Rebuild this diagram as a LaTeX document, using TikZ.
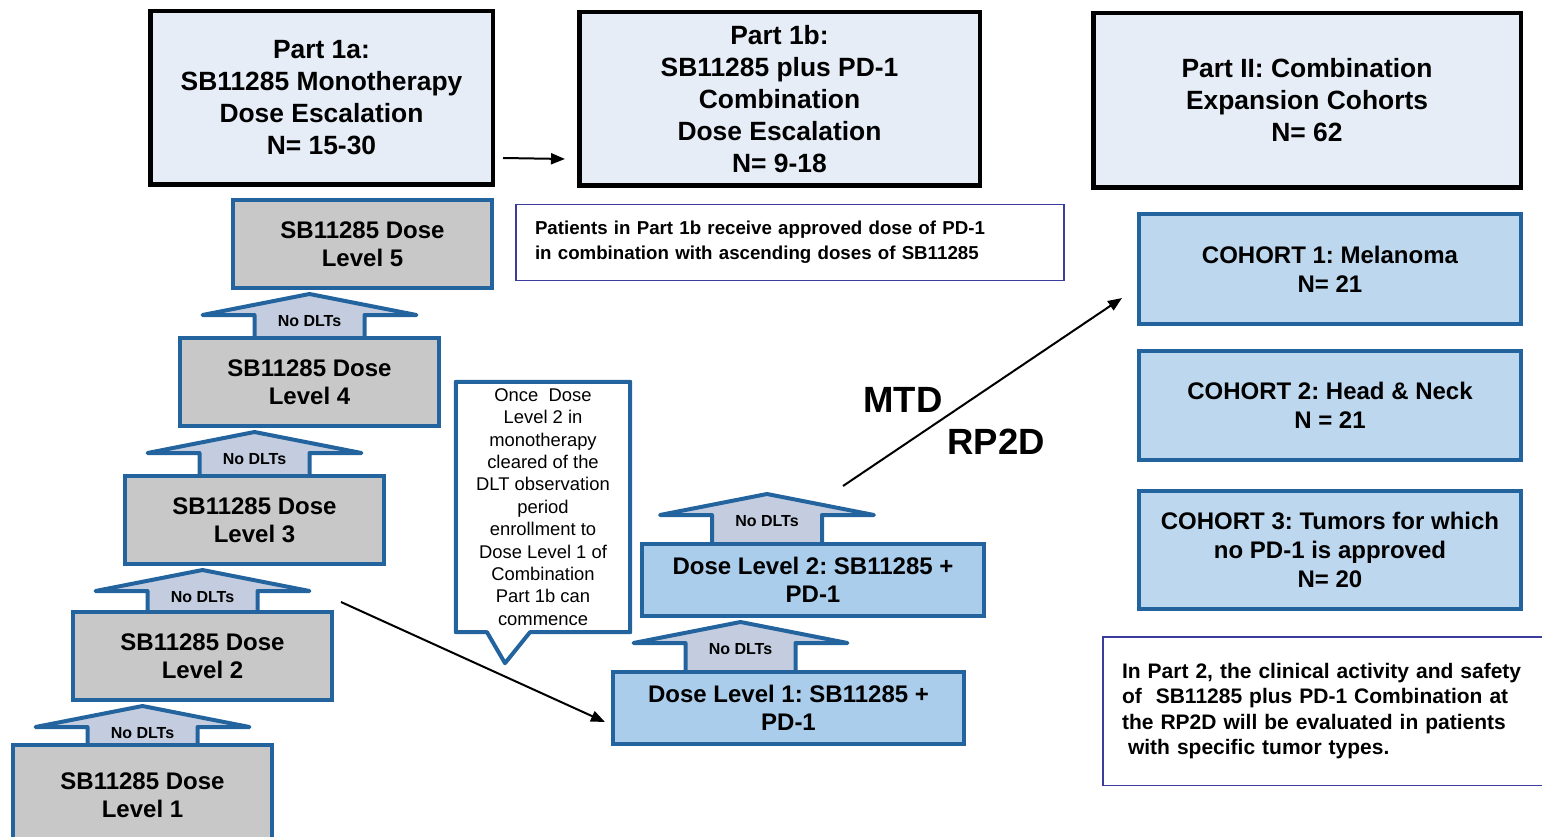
\documentclass[tikz,border=0pt]{standalone}
\usepackage{fontspec}
\setmainfont{Liberation Sans}
\usepackage{tikz}
\usetikzlibrary{arrows.meta,backgrounds}
\frenchspacing

\definecolor{boxblue}{HTML}{23649F}
\definecolor{partfill}{HTML}{E6EDF7}
\definecolor{dosegray}{HTML}{C8C8C8}
\definecolor{dltfill}{HTML}{C4CDE0}
\definecolor{cohortfill}{HTML}{BDD7EE}
\definecolor{combofill}{HTML}{AACDEC}
\definecolor{noteline}{HTML}{3C3C9C}

% block arrow "No DLTs": #1 tip position, #2 name
\newcommand{\dltarrow}[2]{%
  \coordinate (#2tip) at (#1);
  \begin{pgfonlayer}{background}
    \draw[dltshape] (#2tip) ++(0,4) -- ++(107,21) -- ++(-52,0) -- ++(0,40) -- ++(-110,0) -- ++(0,-40) -- ++(-52,0) -- cycle;
  \end{pgfonlayer}
  \node[dltlabel] (#2) at ([yshift=-31pt]#2tip) {No DLTs};}

\begin{document}
\begin{tikzpicture}[x=1pt, y=-1pt, >={Triangle[length=14pt,width=11pt]},
  partbox/.style={draw=black, line width=4.5pt, fill=partfill, align=center, inner sep=0pt,
    font=\bfseries\fontsize{26.4}{32}\selectfont},
  dosebox/.style={draw=boxblue, line width=4pt, fill=dosegray, align=center, inner sep=0pt,
    minimum width=259pt, minimum height=88pt, font=\bfseries\fontsize{24}{28}\selectfont},
  combobox/.style={draw=boxblue, line width=4pt, fill=combofill, align=center, inner sep=0pt,
    minimum height=72pt, font=\bfseries\fontsize{24}{28}\selectfont},
  cohortbox/.style={draw=boxblue, line width=4pt, fill=cohortfill, align=center, inner sep=0pt,
    minimum width=382pt, font=\bfseries\fontsize{24}{29}\selectfont},
  notebox/.style={draw=noteline, line width=1.5pt, fill=white, align=left, inner xsep=19pt,
    inner ysep=0pt},
  dltshape/.style={draw=boxblue, line width=4pt, fill=dltfill, line join=round},
  dltlabel/.style={inner sep=0pt, font=\bfseries\fontsize{16}{18}\selectfont},
  bigtext/.style={inner sep=0pt, font=\bfseries\fontsize{36.5}{40}\selectfont},
  link/.style={->, line width=2pt}]
  \useasboundingbox (0,0) rectangle (1542,837);

  % Parts
  \node[partbox, minimum width=342.5pt, minimum height=173.5pt] (p1a) at (321.5,98)
    {Part 1a:\\SB11285 Monotherapy\\Dose Escalation\\N= 15-30};
  \node[partbox, minimum width=400.5pt, minimum height=173.5pt] (p1b) at (779.5,99)
    {Part 1b:\\SB11285 plus PD-1\\Combination\\Dose Escalation\\N= 9-18};
  \node[partbox, minimum width=427.5pt, minimum height=174.5pt] (p2) at (1307,100.5)
    {Part II: Combination\\Expansion Cohorts\\N= 62};
  \draw[link] ([xshift=8pt,yshift=-60pt]p1a.east) -- ([xshift=-12pt,yshift=-60pt]p1b.west);

  % Notes
  \node[notebox, text width=510pt, minimum height=75.5pt, font=\bfseries\fontsize{18.7}{25}\selectfont]
    (note1b) at (790,242.5)
    {Patients in Part 1b receive approved dose of PD-1\\in combination with ascending doses of SB11285};
  \node[notebox, text width=419pt, minimum height=148.5pt, font=\bfseries\fontsize{21}{25.3}\selectfont]
    (note2) at (1331.5,711)
    {In Part 2, the clinical activity and safety\\of\ \ SB11285 plus PD-1 Combination at\\the RP2D will be evaluated in patients\\\hspace*{6pt}with specific tumor types.};

  % Monotherapy dose levels
  \node[dosebox] (l5) at (362.5,244) {SB11285 Dose\\Level 5};
  \node[dosebox] (l4) at (309.5,382) {SB11285 Dose\\Level 4};
  \node[dosebox] (l3) at (254.5,520) {SB11285 Dose\\Level 3};
  \node[dosebox] (l2) at (202.5,656) {SB11285 Dose\\Level 2};
  \node[dosebox, minimum height=100pt] (l1) at (142.5,795) {SB11285 Dose\\Level 1};
  \foreach \lo/\hi in {l1/l2, l2/l3, l3/l4, l4/l5}
    \dltarrow{\lo.north |- \hi.south}{dlt\lo};

  % Combination dose levels
  \node[combobox, minimum width=342pt] (dl2) at (813,580) {Dose Level 2: SB11285 +\\PD-1};
  \node[combobox, minimum width=351pt] (dl1) at (788.5,708) {Dose Level 1: SB11285 +\\PD-1};
  \coordinate (dlbase) at ([xshift=-48pt]dl1.north);
  \dltarrow{dlbase |- dl2.south}{dltc1};
  \coordinate (dltop) at ([xshift=-46pt,yshift=52pt]dl2.north);
  \dltarrow{dltop}{dltc2};

  % Callout
  \node[inner sep=0pt, minimum width=174pt, minimum height=250pt, align=center,
    font=\fontsize{18.4}{22.4}\selectfont] (callout) at (543,507)
    {Once\ \ Dose\\Level 2 in\\monotherapy\\cleared of the\\DLT observation\\period\\enrollment to\\Dose Level 1 of\\Combination\\Part 1b can\\commence};
  \draw[draw=boxblue, line width=4pt, line join=round] (callout.north west) -- (callout.north east)
    -- (callout.south east) -- ([xshift=-13pt]callout.south) -- ([xshift=-38pt,yshift=-31pt]callout.south)
    -- ([xshift=-56pt]callout.south) -- (callout.south west) -- cycle;
  \draw[link] ([xshift=7pt,yshift=8pt]l2.north east) -- ([xshift=-6pt,yshift=-14pt]dl1.west);

  % Expansion cohorts
  \node[cohortbox, minimum height=110pt] (c1) at (1330,269) {COHORT 1: Melanoma\\N= 21};
  \node[cohortbox, minimum height=109pt] (c2) at (1330,405.5) {COHORT 2: Head \& Neck\\N = 21};
  \node[cohortbox, minimum height=118pt] (c3) at (1330,550) {COHORT 3: Tumors for which\\no PD-1 is approved\\N= 20};
  \draw[link] ([xshift=30pt,yshift=56pt]dl2.north) -- ([xshift=-15pt,yshift=-29pt]c1.west);
  \node[bigtext] (mtd) at (903,400) {MTD};
  \node[bigtext] (rp2d) at (996,442) {RP2D};
\end{tikzpicture}
\end{document}
